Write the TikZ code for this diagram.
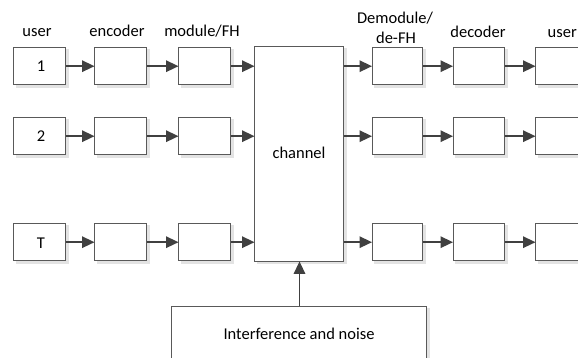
\documentclass[tikz,border=0pt]{standalone}
\usepackage{fontspec}
\setmainfont{Carlito}
\usetikzlibrary{arrows.meta}
\definecolor{edge}{HTML}{595959}
\definecolor{arr}{HTML}{404040}
\definecolor{shade}{HTML}{E3E3E3}
\begin{document}
\begin{tikzpicture}[x=1pt,y=-1pt,
  font=\fontsize{16.5}{19}\selectfont,
  blk/.style={draw=edge,line width=0.9pt,fill=white,
    preaction={fill=shade,draw=shade,transform canvas={shift={(2.5pt,-2.5pt)}}}},
  flow/.style={draw=arr,line width=1.5pt,-{Triangle[length=12.5pt,width=11.5pt]}},
  lbl/.style={anchor=base,inner sep=0pt,text=black}]
\useasboundingbox (0,0) rectangle (578,358);
\clip (0,0) rectangle (578,358);
% transmitter chains
\foreach \r/\t/\y in {a/1/47,b/2/117,c/T/223}{
  \draw[blk] (13.5,\y) rectangle (65.5,\y+37.5) node[pos=0,anchor=north west,inner sep=0pt,minimum width=52pt,minimum height=37.5pt] (u\r) {};
  \draw[blk] (94.5,\y) rectangle (146.5,\y+37.5) node[pos=0,anchor=north west,inner sep=0pt,minimum width=52pt,minimum height=37.5pt] (e\r) {};
  \draw[blk] (178.5,\y) rectangle (230.5,\y+37.5) node[pos=0,anchor=north west,inner sep=0pt,minimum width=52pt,minimum height=37.5pt] (m\r) {};
  \draw[blk] (372,\y) rectangle (422.5,\y+37.5) node[pos=0,anchor=north west,inner sep=0pt,minimum width=50.5pt,minimum height=37.5pt] (d\r) {};
  \draw[blk] (453,\y) rectangle (504.5,\y+37.5) node[pos=0,anchor=north west,inner sep=0pt,minimum width=51.5pt,minimum height=37.5pt] (c\r) {};
  \draw[blk] (535.5,\y) rectangle (590,\y+37.5) node[pos=0,anchor=north west,inner sep=0pt,minimum width=54.5pt,minimum height=37.5pt] (o\r) {};
  \node[lbl] at (41,\y+25) {\t};
}
% channel and interference
\draw[blk] (254.5,46) rectangle (343.5,261);
\node[inner sep=0pt,minimum width=89pt,minimum height=215pt,anchor=north west] (ch) at (254.5,46) {};
\node[lbl] at (299,159) {channel};
\draw[blk] (171.5,306) rectangle (426.5,380);
\node[inner sep=0pt,minimum width=255pt,minimum height=74pt,anchor=north west] (noise) at (171.5,306) {};
\node[lbl] at (299,339.5) {Interference and noise};
% connectors
\foreach \r in {a,b,c}{
  \draw[flow] (u\r.east) -- (e\r.west);
  \draw[flow] (e\r.east) -- (m\r.west);
  \draw[flow] (m\r.east) -- (m\r.east -| ch.west);
  \draw[flow] (m\r.east -| ch.east) -- (d\r.west);
  \draw[flow] (d\r.east) -- (c\r.west);
  \draw[flow] (c\r.east) -- (o\r.west);
}
\draw[flow] (noise.north -| 299.5,0) -- (ch.south -| 299.5,0);
% column headings
\node[lbl] at (37,37) {user};
\node[lbl] at (117,37) {encoder};
\node[lbl] at (202,37) {module/FH};
\node[lbl] at (395,23.5) {Demodule/};
\node[lbl] at (396,44) {de-FH};
\node[lbl] at (478,37.5) {decoder};
\node[lbl,anchor=base west] at (547.5,37.5) {user};
\end{tikzpicture}
\end{document}
